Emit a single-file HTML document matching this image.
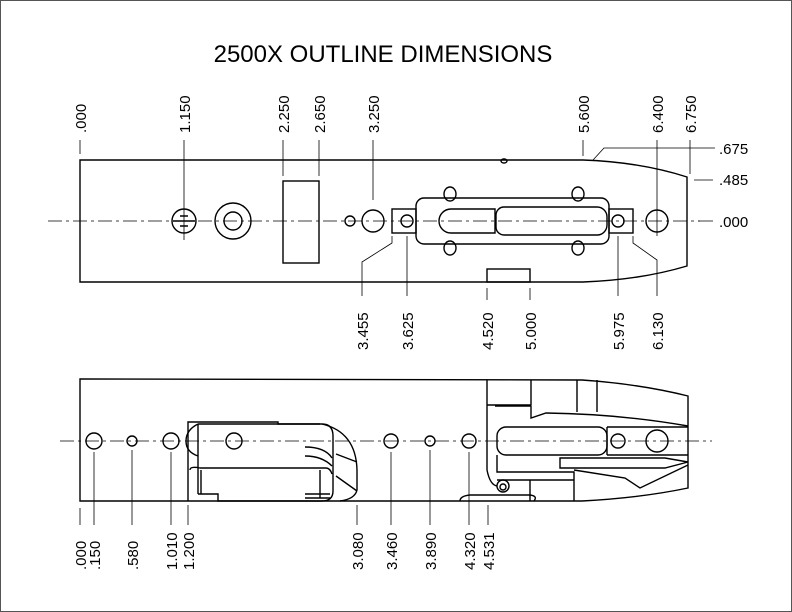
<!DOCTYPE html>
<html><head><meta charset="utf-8"><style>
html,body{margin:0;padding:0;background:#fff}
svg{display:block}
text{font-family:"Liberation Sans",Arial,sans-serif;fill:#000}
</style></head><body>
<svg width="792" height="612" viewBox="0 0 792 612" xmlns="http://www.w3.org/2000/svg">
<rect x="0.5" y="0.5" width="791" height="611" fill="#fff" stroke="#555" stroke-width="1"/>
<text x="383" y="62" font-size="24" text-anchor="middle">2500X OUTLINE DIMENSIONS</text>

<g fill="none" stroke="#000" stroke-width="1.4">
<!-- TOP VIEW -->
<path d="M80,160 L583,160 Q640,162 687,177 L687,266 Q640,280 583,282 L80,282 Z"/>
<rect x="283" y="181" width="36" height="82"/>
<circle cx="184" cy="221" r="12"/>
<circle cx="233" cy="221" r="18"/><circle cx="233" cy="221" r="9"/>
<circle cx="350" cy="221" r="5"/>
<circle cx="373" cy="221" r="11"/>
<rect x="392" y="209" width="24" height="24"/><circle cx="407" cy="221" r="6"/>
<rect x="416" y="198" width="193" height="46" rx="8"/>
<path d="M495,209 L451,209 A12,12 0 0 0 451,233 L495,233 Z"/>
<path d="M504,207 L597,207 A10,10 0 0 1 607,217 L607,225 A10,10 0 0 1 597,235 L504,235 A8,8 0 0 1 496,227 L496,215 A8,8 0 0 1 504,207 Z"/>
<ellipse cx="450" cy="194" rx="6" ry="7"/><ellipse cx="450" cy="248" rx="6" ry="7"/>
<ellipse cx="578" cy="194" rx="6" ry="7"/><ellipse cx="578" cy="248" rx="6" ry="7"/>
<rect x="609" y="209" width="24" height="24"/><circle cx="618" cy="221" r="6"/>
<circle cx="657" cy="221" r="11"/>
<rect x="487" y="269" width="43" height="13"/>
<ellipse cx="504" cy="161" rx="3" ry="2"/>
<path d="M180,216 L188,216 M173,221 L195,221 M180,226 L188,226"/>

<!-- BOTTOM VIEW -->
<path d="M80,379 L582,380 Q640,384 688,396 L688,488 Q640,498 582,501 L80,501 Z"/>
<circle cx="94" cy="441" r="8"/><circle cx="132" cy="441" r="5"/><circle cx="171" cy="441" r="8"/>
<circle cx="234" cy="441" r="8"/>
<circle cx="391" cy="441" r="7"/><circle cx="430" cy="441" r="5"/><circle cx="469" cy="441" r="7"/>
<path d="M188,501 L188,422 L278,422 L278,424 L320,424"/>
<path d="M198,424 L322,424 Q333,424 333,436 L333,491 Q333,501 322,501 L218,501 L218,494 L198,494"/>
<path d="M198,424 Q186,430 186,441 Q186,452 198,456 M198,424 L198,494"/>
<path d="M190,470 Q190,466 200,468 L326,468 Q330,468 332,474"/>
<path d="M201,470 L201,494 M320,470 L320,498"/>
<path d="M322,424 Q356,432 357,470 L357,490 Q355,499 340,501"/>
<path d="M305,447 Q325,447 332,458 M305,456 Q322,456 332,466 M336,454 L357,462 M336,476 L357,491"/>
<path d="M305,494 L330,494 M305,498 L330,498"/>
<path d="M487,380 L487,470 M531,380 L531,405 M487,405 L531,405 M577,380 L577,412 M597,380 L597,412"/>
<path d="M495,406 L531,406 L531,418 L546,413 Q620,414 688,426"/>
<rect x="497" y="427" width="110" height="28" rx="9"/>
<path d="M607,427 L688,427 M607,455 L688,455 M607,427 L607,455"/>
<circle cx="618" cy="441" r="7"/><circle cx="657" cy="441" r="11"/>
<path d="M560,458 L665,458 L688,462 L665,468 L560,468 Z"/>
<path d="M574,470 L625,478 L640,488 L688,465"/>
<path d="M497,455 L497,472 L574,472 L574,501 M497,480 L574,480 M530,501 L530,480"/>
<path d="M487,470 Q490,485 497,486"/>
<ellipse cx="503" cy="486" rx="6" ry="6"/><circle cx="503" cy="487" r="3"/>
<path d="M460,501 Q460,496 470,495 L530,495 Q538,496 534,501"/>
</g>

<g stroke="#000" stroke-width="0.8" stroke-dasharray="14,4,3,4" fill="none">
<line x1="48" y1="221" x2="700" y2="221"/>
<line x1="60" y1="441" x2="712" y2="441"/>
</g>

<g stroke="#000" stroke-width="0.8" fill="none">
<path d="M80,140 V154 M184,140 V240 M283,140 V176 M319,140 V176 M373,140 V200 M583,140 V156 M657,140 V236 M690,140 V174"/>
<path d="M392,236 V243 L362,262 V296 M407,236 V296 M487,288 V300 M530,288 V300 M618,236 V296 M633,236 V243 L657,260 V296"/>
<path d="M593,160 L604,148 L715,148 M694,180 L713,180 M698,221 L713,221"/>
<path d="M80,508 V525 M94,452 V525 M132,450 V525 M171,452 V525 M188,505 V525 M357,505 V525 M391,452 V525 M430,450 V525 M469,452 V525 M488,505 V525"/>
</g>

<g font-size="15">
<text x="719" y="154">.675</text>
<text x="719" y="185">.485</text>
<text x="719" y="227">.000</text>
</g>
<g font-size="15">
<text transform="translate(86,133) rotate(-90)">.000</text>
<text transform="translate(190,133) rotate(-90)">1.150</text>
<text transform="translate(289,133) rotate(-90)">2.250</text>
<text transform="translate(325,133) rotate(-90)">2.650</text>
<text transform="translate(379,133) rotate(-90)">3.250</text>
<text transform="translate(589,133) rotate(-90)">5.600</text>
<text transform="translate(663,133) rotate(-90)">6.400</text>
<text transform="translate(696,133) rotate(-90)">6.750</text>
<text transform="translate(368,350) rotate(-90)">3.455</text>
<text transform="translate(413,350) rotate(-90)">3.625</text>
<text transform="translate(493,350) rotate(-90)">4.520</text>
<text transform="translate(536,350) rotate(-90)">5.000</text>
<text transform="translate(624,350) rotate(-90)">5.975</text>
<text transform="translate(663,350) rotate(-90)">6.130</text>
<text transform="translate(86,570) rotate(-90)">.000</text>
<text transform="translate(100,570) rotate(-90)">.150</text>
<text transform="translate(138,570) rotate(-90)">.580</text>
<text transform="translate(177,570) rotate(-90)">1.010</text>
<text transform="translate(194,570) rotate(-90)">1.200</text>
<text transform="translate(363,570) rotate(-90)">3.080</text>
<text transform="translate(397,570) rotate(-90)">3.460</text>
<text transform="translate(436,570) rotate(-90)">3.890</text>
<text transform="translate(475,570) rotate(-90)">4.320</text>
<text transform="translate(494,570) rotate(-90)">4.531</text>
</g>
</svg>
</body></html>
